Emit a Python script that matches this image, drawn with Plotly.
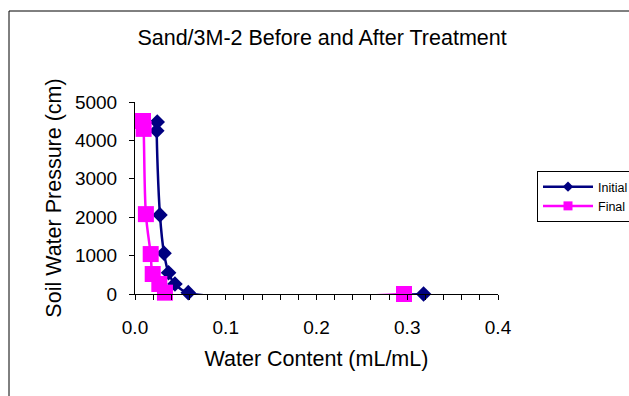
import plotly.graph_objects as go

initial_x = [0.0245, 0.024, 0.0275, 0.032, 0.037, 0.044, 0.0587, 0.318]
initial_y = [4480, 4250, 2060, 1060, 555, 260, 35, 0]
final_x = [0.0088, 0.0095, 0.012, 0.0173, 0.0195, 0.0268, 0.033, 0.2964]
final_y = [4505, 4300, 2080, 1040, 520, 260, 35, 0]

L, R, T, B = 135, 498, 102, 294
W, H = 629, 396
NAVY, MAG = "#000080", "#FF00FF"

fig = go.Figure()
fig.add_trace(go.Scatter(x=initial_x, y=initial_y, name="Initial", mode="lines+markers",
                         showlegend=False,
                         line=dict(color=NAVY, width=2.5, shape="spline"),
                         marker=dict(symbol="diamond", size=12, color=NAVY)))
fig.add_trace(go.Scatter(x=final_x, y=final_y, name="Final", mode="lines+markers",
                         showlegend=False,
                         line=dict(color=MAG, width=2.5, shape="spline"),
                         marker=dict(symbol="square", size=16, color=MAG)))
# legend entries (small symbols as in the reference legend)
fig.add_trace(go.Scatter(x=[None], y=[None], name="Initial", mode="lines+markers",
                         line=dict(color=NAVY, width=2.5),
                         marker=dict(symbol="diamond", size=8, color=NAVY)))
fig.add_trace(go.Scatter(x=[None], y=[None], name="Final", mode="lines+markers",
                         line=dict(color=MAG, width=2.5),
                         marker=dict(symbol="square", size=9, color=MAG)))

pw, ph = R - L, B - T
def px(p):
    return (p - L) / pw
def py(p):
    return (B - p) / ph

fig.add_shape(type="rect", xref="paper", yref="paper",
              x0=px(9), x1=px(640), y0=py(11), y1=py(410),
              line=dict(color="black", width=1), fillcolor="rgba(0,0,0,0)")

fig.update_layout(
    width=W, height=H,
    margin=dict(l=L, r=W - R, t=T, b=H - B, autoexpand=False),
    paper_bgcolor="white", plot_bgcolor="white",
    font=dict(family="Liberation Sans, Arial", size=19, color="black"),
    title=dict(text="Sand/3M-2 Before and After Treatment", x=0.512, xanchor="center",
               y=1 - 37 / H, yanchor="middle", font=dict(size=21.5)),
    showlegend=True,
    legend=dict(x=px(537), y=py(171), xanchor="left", yanchor="top",
                bgcolor="white", bordercolor="black", borderwidth=1,
                font=dict(size=12.5), itemwidth=50, tracegroupgap=0),
    xaxis=dict(range=[0, 0.4], dtick=0.1, tickformat=".1f", showgrid=False, zeroline=False,
               showline=True, linecolor="black", linewidth=1, ticks="outside", ticklen=5,
               tickcolor="black", ticklabelstandoff=11,
               minor=dict(dtick=0.02, ticks="outside", ticklen=5, tickcolor="black"),
               title=dict(text="Water Content (mL/mL)", font=dict(size=21.5), standoff=14)),
    yaxis=dict(range=[0, 5000], dtick=1000, showgrid=False, zeroline=False,
               showline=True, linecolor="black", linewidth=1, ticks="outside", ticklen=5,
               tickcolor="black", ticklabelstandoff=8,
               title=dict(text="Soil Water Pressure (cm)", font=dict(size=21.5), standoff=7)),
)
fig.update_traces(cliponaxis=False)

fig.write_html("out.html")
